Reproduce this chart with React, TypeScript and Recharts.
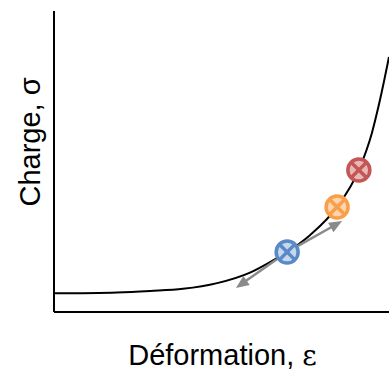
import { ComposedChart, Line, Scatter, XAxis, YAxis, ReferenceLine } from 'recharts';

// courbe charge / déformation
const curveX = [0, 1.88, 2.87, 3.85, 4.87, 5.85, 6.45, 6.96, 7.64, 8.45, 9.1, 9.49, 9.73, 10];
const curveY = [0.62, 0.65, 0.7, 0.77, 0.96, 1.31, 1.66, 1.99, 2.55, 3.49, 4.72, 5.95, 7.04, 8.47];

// points marqués sur la courbe
const markerX = [6.96, 8.45, 9.1];
const markerY = [1.99, 3.49, 4.72];

// flèches partant du point bleu
const arrowStart = { x: 6.96, y: 1.99 };
const arrowEndsX = [5.43, 8.6];
const arrowEndsY = [0.8, 3.02];

const curveData = curveX.map((x, i) => ({ x, y: curveY[i] }));

const MARKER_STYLES = [
  { ring: '#5a8ac6', fill: '#c6d7ef' },
  { ring: '#f99f4a', fill: '#fcd4ae' },
  { ring: '#c55656', fill: '#e8b8b8' },
];

const FONT = '"Liberation Sans", Arial, sans-serif';

const makeMarker = (ring: string, fill: string) => (props: any) => {
  const { cx, cy } = props;
  const r = 11;
  const d = r * Math.SQRT1_2;
  return (
    <g>
      <circle cx={cx} cy={cy} r={r} fill={fill} stroke={ring} strokeWidth={3.5} />
      <line x1={cx - d} y1={cy - d} x2={cx + d} y2={cy + d} stroke={ring} strokeWidth={3.5} />
      <line x1={cx - d} y1={cy + d} x2={cx + d} y2={cy - d} stroke={ring} strokeWidth={3.5} />
    </g>
  );
};

const Arrow = (props: any) => {
  const { x1, y1, x2, y2 } = props;
  const dx = x2 - x1;
  const dy = y2 - y1;
  const len = Math.sqrt(dx * dx + dy * dy);
  const ux = dx / len;
  const uy = dy / len;
  const gap = 13; // commence au bord du marqueur
  const headLen = 13;
  const headHalf = 5.5;
  const sx = x1 + ux * gap;
  const sy = y1 + uy * gap;
  const bx = x2 - ux * headLen;
  const by = y2 - uy * headLen;
  const pts = `${x2},${y2} ${bx - uy * headHalf},${by + ux * headHalf} ${bx + uy * headHalf},${by - ux * headHalf}`;
  return (
    <g>
      <line x1={sx} y1={sy} x2={bx + ux * 1} y2={by + uy * 1} stroke="#8a8a8a" strokeWidth={2.5} />
      <polygon points={pts} fill="#8a8a8a" />
    </g>
  );
};

const XLabel = (props: any) => {
  const { viewBox } = props;
  return (
    <text x={viewBox.x + viewBox.width / 2 + 1} y={viewBox.y + 53} textAnchor="middle" fontFamily={FONT} fontSize={29} fill="#000">
      Déformation, <tspan fontFamily='"DejaVu Serif", serif' fontSize={28}>ε</tspan>
    </text>
  );
};

const YLabel = (props: any) => {
  const { viewBox } = props;
  const cx = viewBox.x + viewBox.width - 14;
  const cy = viewBox.y + 131;
  return (
    <text x={cx} y={cy} transform={`rotate(-90, ${cx}, ${cy})`} textAnchor="middle" fontFamily={FONT} fontSize={29} fill="#000">
      Charge, σ
    </text>
  );
};

export default function App() {
  return (
    <div style={{ position: 'absolute', left: 0, top: 0, width: 389, height: 371, background: '#fff' }}>
      <ComposedChart width={389} height={371} margin={{ top: 11, right: 0, left: 53, bottom: 58 }}>
        <XAxis
          dataKey="x"
          type="number"
          domain={[0, 10]}
          height={1}
          tick={false}
          tickLine={false}
          axisLine={{ stroke: '#000', strokeWidth: 2 }}
          label={{ content: <XLabel /> }}
        />
        <YAxis
          type="number"
          domain={[0, 10]}
          width={1}
          tick={false}
          tickLine={false}
          axisLine={{ stroke: '#000', strokeWidth: 2 }}
          label={{ content: <YLabel /> }}
        />
        <Line
          data={curveData}
          dataKey="y"
          type="monotone"
          stroke="#000"
          strokeWidth={2}
          dot={false}
          activeDot={false}
          isAnimationActive={false}
        />
        {arrowEndsX.map((ex, i) => (
          <ReferenceLine
            key={`arrow-${i}`}
            segment={[arrowStart, { x: ex, y: arrowEndsY[i] }]}
            shape={<Arrow />}
            ifOverflow="visible"
          />
        ))}
        {markerX.map((mx, i) => (
          <Scatter
            key={`marker-${i}`}
            data={[{ x: mx, y: markerY[i] }]}
            dataKey="y"
            shape={makeMarker(MARKER_STYLES[i].ring, MARKER_STYLES[i].fill)}
            isAnimationActive={false}
          />
        ))}
      </ComposedChart>
    </div>
  );
}
